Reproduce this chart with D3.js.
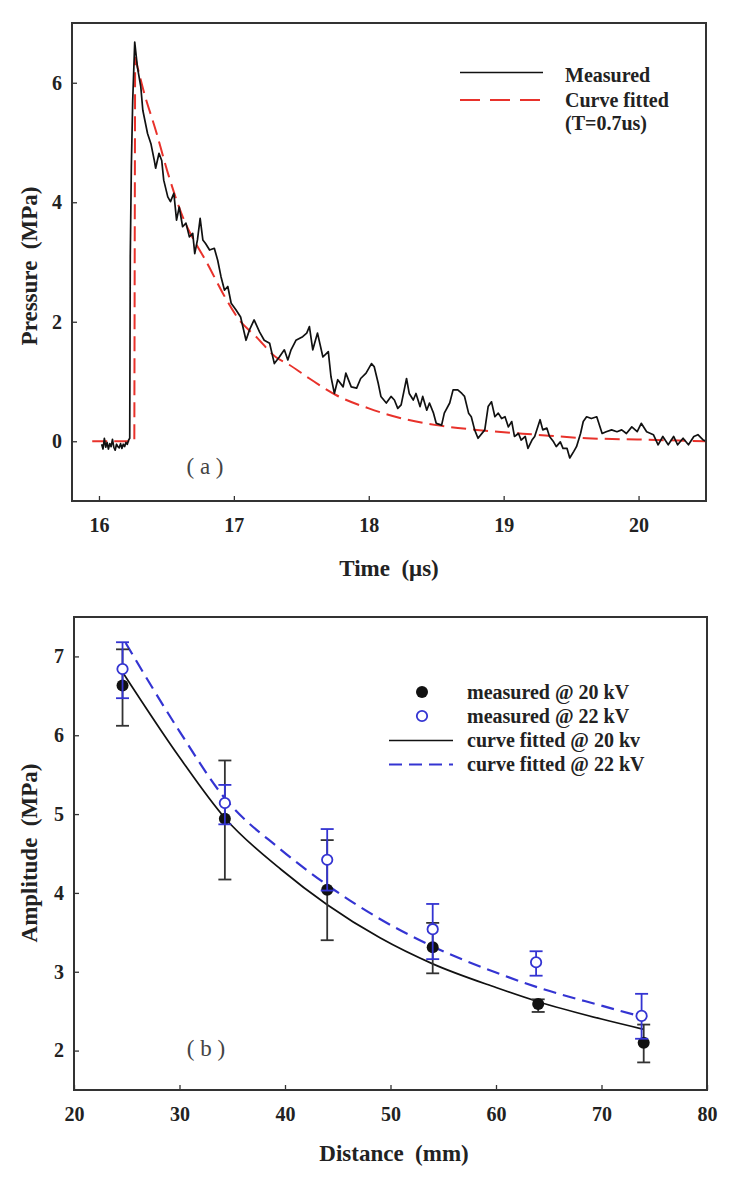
<!DOCTYPE html>
<html>
<head>
<meta charset="utf-8">
<script src="https://cdn.jsdelivr.net/npm/d3@7"></script>
<style>
  body { margin: 0; background: #fff; }
  text { font-family: "Liberation Serif", "Times New Roman", serif; }
</style>
</head>
<body>
<script>
// ---------- Panel (a) data ----------
const timeTicks = [16, 17, 18, 19, 20];
const pressureTicks = [0, 2, 4, 6];
const measuredT = [16.02,16.03,16.04,16.05,16.06,16.07,16.08,16.09,16.10,16.11,16.12,16.13,16.14,16.15,16.16,16.17,16.18,16.19,16.20,16.21,16.22,16.228,16.232,16.24,16.25,16.265,16.285,16.31,16.325,16.36,16.385,16.41,16.42,16.445,16.465,16.48,16.51,16.53,16.555,16.575,16.595,16.62,16.645,16.67,16.695,16.71,16.73,16.75,16.77,16.79,16.82,16.855,16.88,16.905,16.93,16.955,16.98,17.015,17.05,17.09,17.115,17.15,17.19,17.225,17.265,17.30,17.337,17.374,17.40,17.424,17.46,17.51,17.54,17.56,17.585,17.62,17.66,17.70,17.72,17.745,17.77,17.81,17.83,17.87,17.91,17.94,17.98,18.02,18.04,18.07,18.09,18.13,18.165,18.19,18.215,18.24,18.28,18.30,18.33,18.35,18.38,18.40,18.43,18.45,18.48,18.50,18.54,18.56,18.60,18.625,18.66,18.69,18.71,18.74,18.76,18.785,18.81,18.86,18.885,18.91,18.935,18.96,18.985,19.01,19.035,19.06,19.08,19.11,19.13,19.16,19.18,19.21,19.23,19.27,19.29,19.32,19.34,19.37,19.39,19.42,19.44,19.47,19.49,19.52,19.54,19.57,19.59,19.615,19.65,19.69,19.73,19.76,19.80,19.84,19.875,19.91,19.95,19.99,20.02,20.06,20.11,20.145,20.18,20.22,20.26,20.29,20.33,20.37,20.41,20.44,20.48,20.5];
const measuredP = [-0.05,-0.13,0.05,-0.10,-0.02,-0.13,-0.04,-0.09,0.03,-0.10,-0.15,-0.05,-0.09,-0.11,-0.04,-0.12,-0.05,-0.09,-0.02,-0.05,0.02,0.05,3.1,4.6,5.7,6.68,6.26,5.93,5.54,5.15,4.98,4.70,4.57,4.82,4.70,4.37,4.09,4.01,4.15,3.70,3.92,3.59,3.65,3.42,3.48,3.14,3.37,3.73,3.37,3.31,3.20,3.23,3.03,2.75,2.53,2.59,2.31,2.20,2.08,1.69,1.86,2.03,1.83,1.69,1.64,1.30,1.41,1.53,1.36,1.53,1.69,1.75,1.81,1.92,1.53,1.81,1.41,1.50,1.08,0.80,1.03,0.91,1.14,0.91,0.89,1.05,1.14,1.30,1.25,0.97,0.75,0.64,0.75,0.69,0.55,0.61,1.05,0.80,0.69,0.80,0.58,0.75,0.52,0.64,0.47,0.30,0.27,0.47,0.64,0.86,0.86,0.80,0.75,0.47,0.41,0.19,0.05,0.19,0.58,0.66,0.41,0.47,0.38,0.41,0.24,0.33,0.08,0.13,0.02,0.08,-0.12,0.02,0.08,0.36,0.19,0.22,0.08,-0.01,-0.09,-0.01,-0.12,-0.12,-0.28,-0.17,-0.09,0.13,0.33,0.41,0.38,0.41,0.13,0.16,0.19,0.16,0.19,0.13,0.24,0.16,0.30,0.16,0.11,-0.06,0.08,-0.06,0.08,-0.06,0.05,-0.06,0.08,0.11,0.02,0.0];
const fitStepT = [15.95, 16.262, 16.268];
const fitStepP = [0, 0, 6.43];
const fitDecayT = [16.268,16.33,16.42,16.52,16.62,16.72,16.79,16.92,17.04,17.165,17.31,17.41,17.56,17.76,18.0,18.25,18.5,18.8,19.24,19.615,19.99,20.5];
const fitDecayP = [6.43,5.87,5.21,4.42,3.76,3.30,3.03,2.47,2.03,1.75,1.41,1.28,1.05,0.77,0.55,0.38,0.27,0.19,0.11,0.05,0.03,0.0];

// ---------- Panel (b) data ----------
const distTicks = [20, 30, 40, 50, 60, 70, 80];
const ampTicks = [2, 3, 4, 5, 6, 7];
const dist20 = [24.6, 34.3, 44.0, 54.0, 64.0, 74.0];
const amp20 = [6.63, 4.94, 4.04, 3.31, 2.59, 2.10];
const amp20Hi = [7.09, 5.68, 4.67, 3.62, 2.65, 2.33];
const amp20Lo = [6.12, 4.17, 3.40, 2.98, 2.49, 1.85];
const dist22 = [24.6, 34.3, 44.0, 54.0, 63.8, 73.8];
const amp22 = [6.84, 5.14, 4.42, 3.54, 3.12, 2.44];
const amp22Hi = [7.18, 5.37, 4.81, 3.86, 3.26, 2.72];
const amp22Lo = [6.47, 4.87, 4.03, 3.16, 2.95, 2.15];
const fit20X = [24.7, 30, 34.3, 39.6, 44, 49, 54, 60, 64, 70, 74];
const fit20Y = [6.78, 5.72, 4.95, 4.30, 3.85, 3.43, 3.10, 2.80, 2.62, 2.40, 2.27];
const fit22X = [24.9, 30, 34.3, 39.6, 44, 49, 54, 60, 64, 70, 73.8];
const fit22Y = [7.17, 6.05, 5.20, 4.55, 4.10, 3.67, 3.32, 2.99, 2.80, 2.57, 2.43];

// ---------- styles ----------
const RED = "#e8322b";
const BLUE = "#3434d2";
const FRAME = "#333";

const svg = d3.select("body").append("svg").attr("width", 750).attr("height", 1182);

function frameAndAxes(g, x, y, xt, yt, W, H) {
  const ax = g.append("g").attr("transform", `translate(0,${H})`)
    .call(d3.axisBottom(x).tickValues(xt).tickSize(-5).tickPadding(17).tickFormat(d3.format("d")));
  const ay = g.append("g")
    .call(d3.axisLeft(y).tickValues(yt).tickSize(-5).tickPadding(10).tickFormat(d3.format("d")));
  [ax, ay].forEach(a => {
    a.select(".domain").remove();
    a.selectAll("line").attr("stroke", FRAME).attr("stroke-width", 1.3);
    a.selectAll("text").attr("font-family", "Liberation Serif, serif").attr("font-weight", "bold")
      .attr("font-size", 20).attr("fill", "#222");
  });
  g.append("rect").attr("x", 0).attr("y", 0).attr("width", W).attr("height", H)
    .attr("fill", "none").attr("stroke", FRAME).attr("stroke-width", 2);
}

// ================= Panel (a) =================
{
  const L = 72, T = 23, R = 706, B = 501;
  const W = R - L, H = B - T;
  const g = svg.append("g").attr("transform", `translate(${L},${T})`);
  const x = d3.scaleLinear().domain([15.8, 20.5]).range([0, W]);
  const y = d3.scaleLinear().domain([-1, 7]).range([H, 0]);

  g.append("clipPath").attr("id", "clipA").append("rect").attr("width", W).attr("height", H);
  const pg = g.append("g").attr("clip-path", "url(#clipA)");

  const stepData = fitStepT.map((t, i) => [t, fitStepP[i]]);
  const decayData = fitDecayT.map((t, i) => [t, fitDecayP[i]]);
  const lin = d3.line().x(d => x(d[0])).y(d => y(d[1]));
  const mono = d3.line().x(d => x(d[0])).y(d => y(d[1])).curve(d3.curveMonotoneX);
  pg.append("path").attr("d", lin(stepData)).attr("fill", "none").attr("stroke", RED)
    .attr("stroke-width", 2).attr("stroke-dasharray", "15,7");
  pg.append("path").attr("d", mono(decayData)).attr("fill", "none").attr("stroke", RED)
    .attr("stroke-width", 2).attr("stroke-dasharray", "15,7");

  const meas = measuredT.map((t, i) => [t, measuredP[i]]);
  pg.append("path").attr("d", lin(meas)).attr("fill", "none").attr("stroke", "#111")
    .attr("stroke-width", 1.7).attr("stroke-linejoin", "round");

  frameAndAxes(g, x, y, timeTicks, pressureTicks, W, H);

  // legend
  const lg = svg.append("g");
  lg.append("line").attr("x1", 460).attr("x2", 543).attr("y1", 72.5).attr("y2", 72.5)
    .attr("stroke", "#111").attr("stroke-width", 1.6);
  lg.append("line").attr("x1", 460).attr("x2", 543).attr("y1", 100).attr("y2", 100)
    .attr("stroke", RED).attr("stroke-width", 2).attr("stroke-dasharray", "20,10");
  const lt = [["Measured", 81.5], ["Curve fitted", 107], ["(T=0.7us)", 130]];
  lg.selectAll("text").data(lt).join("text").attr("x", 565).attr("y", d => d[1])
    .attr("font-size", 20).attr("font-weight", "bold").attr("fill", "#222").text(d => d[0]);

  svg.append("text").attr("x", 205).attr("y", 466).attr("dy", "0.35em").attr("text-anchor", "middle")
    .attr("font-size", 23).attr("fill", "#444").style("white-space", "pre").text("( a )");
  svg.append("text").attr("x", 389).attr("y", 568).attr("dy", "0.35em").attr("text-anchor", "middle")
    .attr("font-size", 23).attr("font-weight", "bold").attr("fill", "#222").style("white-space", "pre")
    .text("Time  (μs)");
  svg.append("text").attr("transform", "translate(29,266) rotate(-90)").attr("dy", "0.35em")
    .attr("text-anchor", "middle").attr("font-size", 23).attr("font-weight", "bold").attr("fill", "#222")
    .style("white-space", "pre").text("Pressure  (MPa)");
}

// ================= Panel (b) =================
{
  const L = 74, T = 617, R = 707, B = 1090;
  const W = R - L, H = B - T;
  const g = svg.append("g").attr("transform", `translate(${L},${T})`);
  const x = d3.scaleLinear().domain([20, 80]).range([0, W]);
  const y = d3.scaleLinear().domain([1.5, 7.5]).range([H, 0]);
  const mono = d3.line().x(d => x(d[0])).y(d => y(d[1])).curve(d3.curveMonotoneX);

  g.append("path").attr("d", mono(fit20X.map((v, i) => [v, fit20Y[i]])))
    .attr("fill", "none").attr("stroke", "#111").attr("stroke-width", 1.7);
  g.append("path").attr("d", mono(fit22X.map((v, i) => [v, fit22Y[i]])))
    .attr("fill", "none").attr("stroke", BLUE).attr("stroke-width", 2.2).attr("stroke-dasharray", "13,7");

  function errSeries(xs, ys, lo, hi, color, filled) {
    const d = xs.map((v, i) => ({ x: v, y: ys[i], lo: lo[i], hi: hi[i] }));
    const s = g.append("g");
    s.selectAll(".v").data(d).join("line")
      .attr("x1", p => x(p.x)).attr("x2", p => x(p.x))
      .attr("y1", p => y(p.lo)).attr("y2", p => y(p.hi))
      .attr("stroke", color).attr("stroke-width", 1.8);
    ["lo", "hi"].forEach(k => {
      s.selectAll(".c" + k).data(d).join("line")
        .attr("x1", p => x(p.x) - 6.5).attr("x2", p => x(p.x) + 6.5)
        .attr("y1", p => y(p[k])).attr("y2", p => y(p[k]))
        .attr("stroke", color).attr("stroke-width", 1.8);
    });
    s.selectAll("circle").data(d).join("circle")
      .attr("cx", p => x(p.x)).attr("cy", p => y(p.y)).attr("r", filled ? 6 : 5.2)
      .attr("fill", filled ? "#111" : "#fff").attr("stroke", color).attr("stroke-width", filled ? 0 : 1.8);
  }
  errSeries(dist20, amp20, amp20Lo, amp20Hi, "#333", true);
  errSeries(dist22, amp22, amp22Lo, amp22Hi, BLUE, false);

  frameAndAxes(g, x, y, distTicks, ampTicks, W, H);

  // legend
  const lg = svg.append("g");
  lg.append("circle").attr("cx", 422).attr("cy", 692).attr("r", 6).attr("fill", "#111");
  lg.append("circle").attr("cx", 422).attr("cy", 716).attr("r", 5.2).attr("fill", "#fff")
    .attr("stroke", BLUE).attr("stroke-width", 1.8);
  lg.append("line").attr("x1", 389).attr("x2", 453).attr("y1", 740.5).attr("y2", 740.5)
    .attr("stroke", "#111").attr("stroke-width", 1.7);
  lg.append("line").attr("x1", 389).attr("x2", 453).attr("y1", 764.5).attr("y2", 764.5)
    .attr("stroke", BLUE).attr("stroke-width", 2.2).attr("stroke-dasharray", "13,7");
  const lt = [["measured @ 20 kV", 698.5], ["measured @ 22 kV", 722.5], ["curve fitted @ 20 kv", 746.5], ["curve fitted @ 22 kV", 770.5]];
  lg.selectAll("text").data(lt).join("text").attr("x", 467).attr("y", d => d[1])
    .attr("font-size", 20).attr("font-weight", "bold").attr("fill", "#222").text(d => d[0]);

  svg.append("text").attr("x", 206).attr("y", 1048).attr("dy", "0.35em").attr("text-anchor", "middle")
    .attr("font-size", 23).attr("fill", "#444").style("white-space", "pre").text("( b )");
  svg.append("text").attr("x", 394).attr("y", 1153).attr("dy", "0.35em").attr("text-anchor", "middle")
    .attr("font-size", 23).attr("font-weight", "bold").attr("fill", "#222").style("white-space", "pre")
    .text("Distance  (mm)");
  svg.append("text").attr("transform", "translate(29,853) rotate(-90)").attr("dy", "0.35em")
    .attr("text-anchor", "middle").attr("font-size", 23).attr("font-weight", "bold").attr("fill", "#222")
    .style("white-space", "pre").text("Amplitude  (MPa)");
}
</script>
</body>
</html>
